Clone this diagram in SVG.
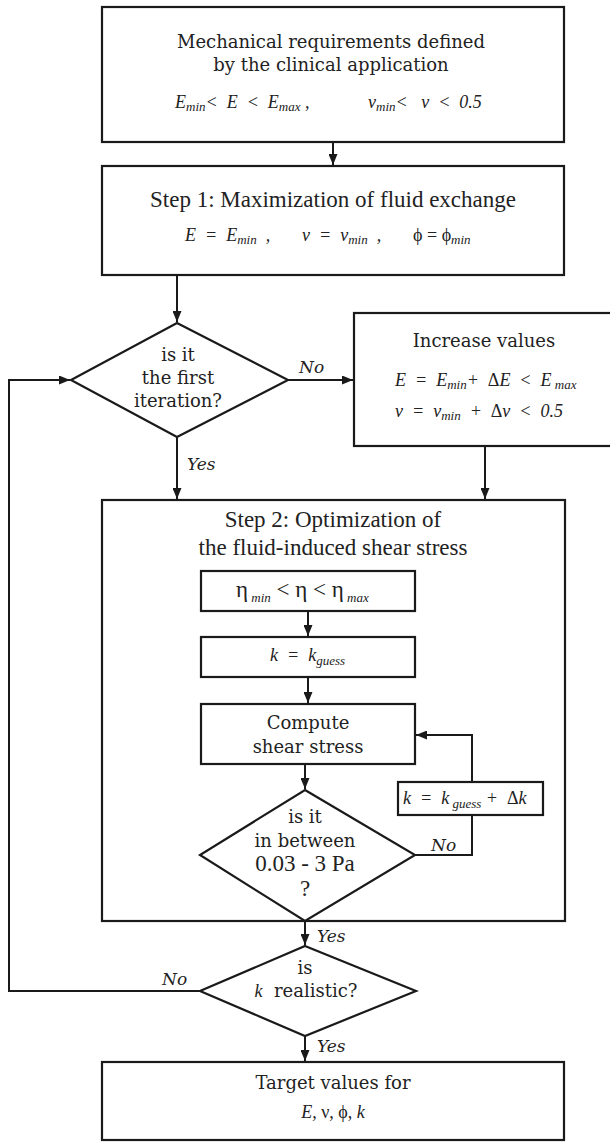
<svg xmlns="http://www.w3.org/2000/svg" width="610" height="1142" viewBox="0 0 610 1142" xml:space="preserve">
<defs>
<marker id="ah" viewBox="0 0 10 10" refX="10" refY="5" markerWidth="11" markerHeight="9" markerUnits="userSpaceOnUse" orient="auto" preserveAspectRatio="none">
<path d="M0,0 L10,5 L0,10 Z" fill="#1a1a1a"/>
</marker>
<style>
text{white-space:pre}
.box{fill:#fff;stroke:#1a1a1a;stroke-width:2.2}
.ln{fill:none;stroke:#1a1a1a;stroke-width:2}
.dj{font-family:"DejaVu Serif",serif;font-size:18px;fill:#222}
.tm{font-family:"Liberation Serif",serif;font-size:23px;fill:#222}
.mi{font-family:"Liberation Serif",serif;font-style:italic;font-size:18px;fill:#222}
.lab{font-family:"DejaVu Serif",serif;font-style:italic;font-size:17px;fill:#222}
.sub{font-size:13px}
</style>
</defs>
<rect width="610" height="1142" fill="#fff"/>
<g id="n1">
<rect class="box" x="102" y="7" width="462" height="135"/>
<text class="dj" x="331" y="48" text-anchor="middle" font-size="18.5">Mechanical requirements defined</text>
<text class="dj" x="331" y="71" text-anchor="middle" font-size="18.5">by the clinical application</text>
<text class="mi" x="175" y="108">E<tspan class="sub" dy="3">min</tspan><tspan dy="-3">&lt;  E  &lt;  E</tspan><tspan class="sub" dy="3">max</tspan><tspan dy="-3"> ,</tspan></text>
<text class="mi" x="368" y="108" font-size="19">ν<tspan class="sub" dy="3">min</tspan><tspan dy="-3">&lt;   ν  &lt;  0.5</tspan></text>
</g>
<g id="n2">
<rect class="box" x="102" y="166" width="462" height="109"/>
<text class="tm" x="333" y="207" text-anchor="middle">Step 1: Maximization of fluid exchange</text>
<text class="mi" x="185" y="241">E  =  E<tspan class="sub" dy="3">min</tspan><tspan dy="-3">  ,</tspan></text>
<text class="mi" x="302" y="241" font-size="19">ν  =  ν<tspan class="sub" dy="3">min</tspan><tspan dy="-3">  ,</tspan></text>
<text class="mi" x="413" y="241" font-size="21"><tspan font-style="normal">ϕ = ϕ</tspan><tspan class="sub" dy="3">min</tspan></text>
</g>
<g id="n3">
<polygon class="box" points="177,323 288,380 177,437 71,380"/>
<text class="dj" x="178" y="361" text-anchor="middle">is it</text>
<text class="dj" x="178" y="384" text-anchor="middle">the first</text>
<text class="dj" x="178" y="407" text-anchor="middle">iteration?</text>
</g>
<g id="n4">
<rect class="box" x="354" y="313" width="260" height="133"/>
<text class="dj" x="484" y="347" text-anchor="middle">Increase values</text>
<text class="mi" x="395" y="386">E  =  E<tspan class="sub" dy="3">min</tspan><tspan dy="-3">+  <tspan font-style="normal">Δ</tspan>E  &lt;  E</tspan><tspan class="sub" dy="3"> max</tspan></text>
<text class="mi" x="395" y="417" font-size="19">ν  =  ν<tspan class="sub" dy="3">min</tspan><tspan dy="-3">  +  <tspan font-style="normal">Δ</tspan>ν  &lt;  0.5</tspan></text>
</g>
<g id="n5">
<rect class="box" x="102" y="500" width="463" height="421"/>
<text class="tm" x="333" y="527" text-anchor="middle">Step 2: Optimization of</text>
<text class="tm" x="333" y="555" text-anchor="middle">the fluid-induced shear stress</text>
</g>
<g id="n6">
<rect class="box" x="201" y="571" width="214" height="40"/>
<text class="tm" x="236" y="597" font-size="21">η<tspan font-size="13" font-style="italic" dy="5"> min</tspan><tspan dy="-5"> &lt; η &lt; η</tspan><tspan font-size="13" font-style="italic" dy="5"> max</tspan></text>
</g>
<g id="n7">
<rect class="box" x="201" y="637" width="214" height="40"/>
<text class="mi" x="270" y="661">k  =  k<tspan font-size="13" dy="4">guess</tspan></text>
</g>
<g id="n8">
<rect class="box" x="201" y="704" width="214" height="60"/>
<text class="dj" x="308" y="729" text-anchor="middle">Compute</text>
<text class="dj" x="308" y="753" text-anchor="middle">shear stress</text>
</g>
<g id="n9">
<polygon class="box" points="305,790 415,855 305,921 200,855"/>
<text class="dj" x="305" y="823" text-anchor="middle">is it</text>
<text class="dj" x="305" y="847" text-anchor="middle">in between</text>
<text class="tm" x="305" y="871" text-anchor="middle" font-size="21">0.03 - 3 Pa</text>
<text class="tm" x="305" y="896" text-anchor="middle" font-size="21">?</text>
</g>
<g id="n10">
<rect class="box" x="398" y="782" width="145" height="33"/>
<text class="mi" x="403" y="804">k  =  k<tspan font-size="13" dy="4"> guess</tspan><tspan dy="-4"> +  <tspan font-style="normal">Δ</tspan>k</tspan></text>
</g>
<g id="n11">
<polygon class="box" points="305,946 416,991 305,1036 200,991"/>
<text class="dj" x="305" y="974" text-anchor="middle">is</text>
<text class="dj" x="306" y="997" text-anchor="middle"><tspan font-family="Liberation Serif" font-style="italic">k</tspan>  realistic?</text>
</g>
<g id="n12">
<rect class="box" x="102" y="1062" width="462" height="78"/>
<text class="dj" x="333" y="1089" text-anchor="middle">Target values for</text>
<text class="mi" x="333" y="1118" text-anchor="middle" font-size="19">E, <tspan font-style="normal">ν, ϕ,</tspan> k</text>
</g>
<g id="connectors">
<path class="ln" d="M333,142 V165" marker-end="url(#ah)"/>
<path class="ln" d="M177,275 V322" marker-end="url(#ah)"/>
<path class="ln" d="M288,380 H353" marker-end="url(#ah)"/>
<path class="ln" d="M177,437 V499" marker-end="url(#ah)"/>
<path class="ln" d="M485,446 V499" marker-end="url(#ah)"/>
<path class="ln" d="M308,611 V636" marker-end="url(#ah)"/>
<path class="ln" d="M308,677 V703" marker-end="url(#ah)"/>
<path class="ln" d="M305,764 V789" marker-end="url(#ah)"/>
<path class="ln" d="M415,855 H472 V815"/>
<path class="ln" d="M472,782 V735 H416" marker-end="url(#ah)"/>
<path class="ln" d="M305,921 V945" marker-end="url(#ah)"/>
<path class="ln" d="M305,1036 V1061" marker-end="url(#ah)"/>
<path class="ln" d="M200,991 H9 V380 H70" marker-end="url(#ah)"/>
<text class="lab" x="299" y="373">No</text>
<text class="lab" x="187" y="470">Yes</text>
<text class="lab" x="431" y="851">No</text>
<text class="lab" x="317" y="942">Yes</text>
<text class="lab" x="162" y="985">No</text>
<text class="lab" x="317" y="1052">Yes</text>
</g>
</svg>
